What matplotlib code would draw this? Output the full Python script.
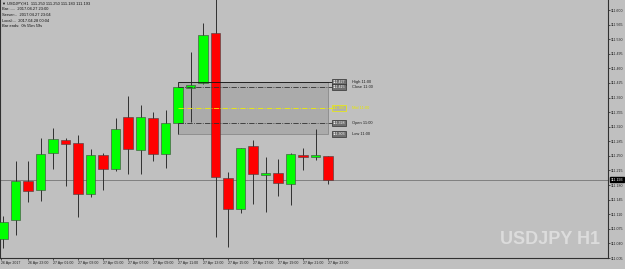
import matplotlib.pyplot as plt
from matplotlib.patches import Rectangle
from matplotlib.transforms import blended_transform_factory

# USDJPY H1 bars, 26 Apr 21:00 .. 27 Apr 23:00
opens = [111.051, 111.096, 111.190, 111.168, 111.257, 111.288, 111.281, 111.159, 111.252,
         111.219, 111.343, 111.264, 111.341, 111.255, 111.328, 111.413, 111.425, 111.545,
         111.197, 111.123, 111.274, 111.204, 111.209, 111.183, 111.252, 111.247, 111.250]
highs = [111.106, 111.238, 111.238, 111.293, 111.317, 111.293, 111.300, 111.267, 111.257,
         111.341, 111.394, 111.372, 111.355, 111.360, 111.427, 111.499, 111.569, 111.640,
         111.212, 111.270, 111.288, 111.247, 111.243, 111.257, 111.269, 111.315, 111.250]
lows = [111.030, 111.060, 111.140, 111.142, 111.219, 111.178, 111.104, 111.152, 111.168,
        111.214, 111.207, 111.207, 111.238, 111.221, 111.303, 111.331, 111.423, 111.056,
        111.032, 111.113, 111.135, 111.116, 111.154, 111.132, 111.216, 111.240, 111.183]
closes = [111.092, 111.190, 111.166, 111.255, 111.291, 111.279, 111.159, 111.252, 111.219,
          111.315, 111.267, 111.343, 111.255, 111.329, 111.415, 111.420, 111.540, 111.200,
          111.123, 111.269, 111.207, 111.209, 111.185, 111.255, 111.247, 111.252, 111.193]

xtick_pos = [-0.2, 2, 4, 6, 8, 10, 12, 14, 16, 18, 20, 22, 24, 26]
xtick_labels = ["26 Apr 2017", "26 Apr 23:00", "27 Apr 01:00", "27 Apr 03:00", "27 Apr 05:00",
                "27 Apr 07:00", "27 Apr 09:00", "27 Apr 11:00", "27 Apr 13:00", "27 Apr 15:00",
                "27 Apr 17:00", "27 Apr 19:00", "27 Apr 21:00", "27 Apr 23:00"]
yticks = [111.005, 111.040, 111.075, 111.110, 111.145, 111.180, 111.215, 111.250, 111.285,
          111.320, 111.355, 111.390, 111.425, 111.460, 111.495, 111.530, 111.565, 111.600]

bid = 111.193
# range box of the 11:00 bar
box_bar = 14
box_end = 26
box_levels = [("High 11:00", 111.427), ("Close 11:00", 111.415), ("Mid 11:00", 111.365),
              ("Open 11:00", 111.328), ("Low 11:00", 111.303)]

plt.rcParams["font.family"] = ["Liberation Sans", "DejaVu Sans"]
bg = "#c0c0c0"
small = 2.6
fig = plt.figure(figsize=(6.25, 2.69), dpi=100)
fig.patch.set_facecolor(bg)
ax = fig.add_axes([0, 11 / 269, 608 / 625, 258 / 269])
ax.set_facecolor(bg)

# box behind candles
hi = box_levels[0][1]
lo = box_levels[-1][1]
ax.add_patch(Rectangle((box_bar, lo), box_end - box_bar, hi - lo,
                       facecolor="#ababab", edgecolor="#808080", lw=0.5, zorder=1))

# candles
x = list(range(len(opens)))
ax.vlines(x, lows, highs, color="#303030", lw=0.7, zorder=2)
colors = ["#00ff00" if c >= o else "#ff0000" for o, c in zip(opens, closes)]
bottoms = [min(o, c) for o, c in zip(opens, closes)]
heights = [max(abs(c - o), 0.002) for o, c in zip(opens, closes)]
ax.bar(x, heights, bottom=bottoms, width=0.76, color=colors,
       edgecolor="#404040", lw=0.4, zorder=3)

# bid line + tag
ax.axhline(bid, color="#808080", lw=0.7, zorder=1.5)
tr = blended_transform_factory(ax.transAxes, ax.transData)
ax.text(1.004, bid, f"{bid:.3f}", transform=tr, fontsize=small, color="white",
        va="center", ha="left", clip_on=False,
        bbox=dict(boxstyle="square,pad=0.2", fc="black", ec="black"))

# box level lines, tags and names
tag_x = 26.35
for name, lvl in box_levels:
    if name.startswith("Mid"):
        col, ls, tc, tfc = "#f0f000", "-.", "#f0f000", "#b0b0b0"
    elif name.startswith("High"):
        col, ls, tc, tfc = "#101010", "-", "white", "#707070"
    else:
        col, ls, tc, tfc = "#303030", "-.", "white", "#707070"
    if not name.startswith("Low"):
        ax.hlines(lvl, box_bar, tag_x, color=col, ls=ls, lw=0.6, zorder=4)
    ax.text(tag_x + 0.05, lvl, f"{lvl:.3f}", fontsize=small, color=tc, va="center", ha="left",
            zorder=5, bbox=dict(boxstyle="square,pad=0.25", fc=tfc,
                                ec=col if name.startswith("Mid") else "#303030", lw=0.5))
    ax.text(27.9, lvl, name, fontsize=small + 0.3, va="center", ha="left", zorder=5,
            color="#e8e800" if name.startswith("Mid") else "#202020")

ax.set_xlim(-0.24, 48.4)
ax.set_ylim(111.0053, 111.624)

ax.yaxis.tick_right()
ax.set_yticks(yticks)
ax.set_yticklabels([f"{v:.3f}" for v in yticks])
ax.set_xticks(xtick_pos)
ax.set_xticklabels(xtick_labels)
for lab in ax.get_xticklabels():
    lab.set_ha("left")
ax.tick_params(axis="both", labelsize=small, length=1.5, width=0.5, pad=0.8, colors="#202020")
ax.spines["top"].set_visible(False)
for side in ["left", "right", "bottom"]:
    ax.spines[side].set_color("#303030")
    ax.spines[side].set_linewidth(0.8)

# info block top-left
info = ["\u25bc USDJPY,H1  111.250 111.250 111.183 111.193",
        "Bar:.....  2017.04.27 23:00",
        "Server:..  2017.04.27 23:04",
        "Local:...  2017.04.28 00:04",
        "Bar ends:  0h 55m 59s"]
for i, line in enumerate(info):
    fig.text(2 / 625, 1 - (4 + 5.5 * i) / 269, line, fontsize=small + 0.3, color="#101010",
             va="center", ha="left")

fig.text(600 / 625, 1 - 244 / 269, "USDJPY H1", fontsize=13, fontweight="bold",
         color="#dcdcdc", ha="right", va="baseline")

fig.savefig("out.png", dpi=100, facecolor=bg)
